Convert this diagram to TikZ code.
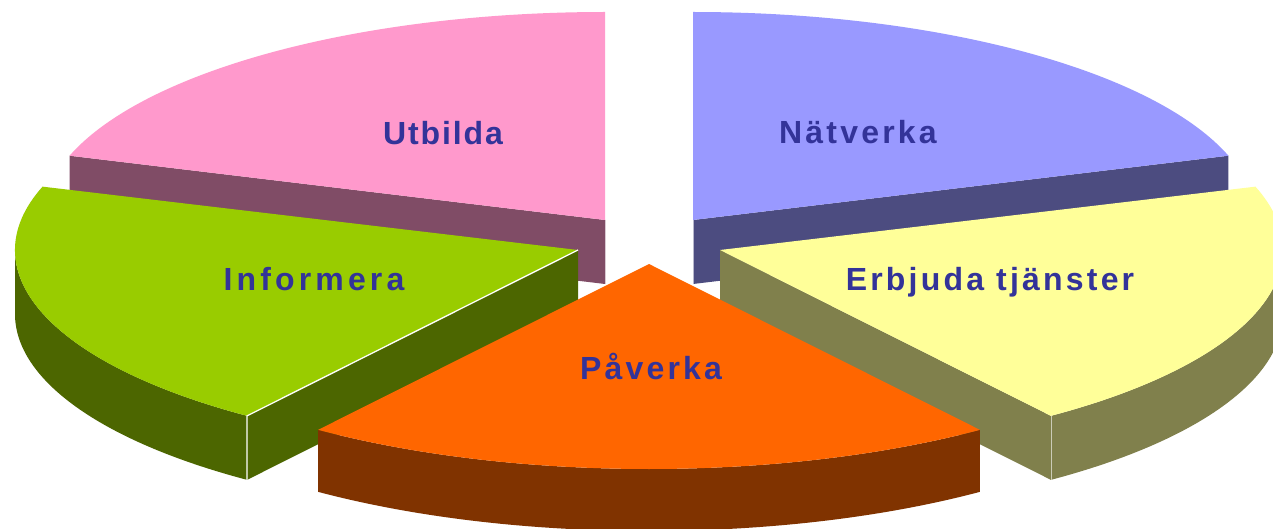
\documentclass[tikz,border=0pt]{standalone}
\usepackage{fontspec}
\usetikzlibrary{calc}
\newfontfamily\lblA[LetterSpace=10]{Liberation Sans}
\newfontfamily\lblB[LetterSpace=6]{Liberation Sans}
\newfontfamily\lblC[LetterSpace=13]{Liberation Sans}
\definecolor{utop}{HTML}{FF99CC}\definecolor{uwall}{HTML}{804C66}
\definecolor{ntop}{HTML}{9999FF}\definecolor{nwall}{HTML}{4C4C80}
\definecolor{etop}{HTML}{FFFF99}\definecolor{ewall}{HTML}{80804C}
\definecolor{ptop}{HTML}{FF6600}\definecolor{pwall}{HTML}{803300}
\definecolor{itop}{HTML}{99CC00}\definecolor{iwall}{HTML}{4C6600}
\definecolor{lbltext}{HTML}{333399}
\tikzset{
  lbl/.style={text=lbltext, inner sep=0pt, anchor=base, font=\lblA\bfseries\fontsize{32}{38}\selectfont},
}
\begin{document}
\begin{tikzpicture}[x=1pt,y=1pt]
\fill[white] (0,0) rectangle (1273,528);
\useasboundingbox (0,0) rectangle (1273,528);
\coordinate (cU) at (605,308);
\coordinate (cN) at (693,308);
\coordinate (cI) at (578,278);
\coordinate (cE) at (720,278);
\coordinate (cP) at (649,264);
% --- Utbilda (back)
\fill[uwall] (cU) -- ($(cU)+(162:563pt and 208pt)$) -- ++(0,-64) -- ($(cU)+(0,-64)$) -- cycle;
\draw[white!70!uwall, line width=0.8pt] (cU) -- ($(cU)+(0,-64)$);
\fill[utop] (cU) -- ($(cU)+(90:563pt and 208pt)$) arc[start angle=90, end angle=162, x radius=563pt, y radius=208pt] -- cycle;
% --- Nätverka (back)
\fill[nwall] (cN) -- ($(cN)+(18:563pt and 208pt)$) -- ++(0,-64) -- ($(cN)+(0,-64)$) -- cycle;
\draw[white!60!nwall, line width=0.8pt] (cN) -- ($(cN)+(0,-64)$);
\fill[ntop] (cN) -- ($(cN)+(18:563pt and 208pt)$) arc[start angle=18, end angle=90, x radius=563pt, y radius=208pt] -- cycle;
% --- Informera
\fill[iwall] ($(cI)+(180:563pt and 205pt)$) arc[start angle=180, end angle=234, x radius=563pt, y radius=205pt] -- ++(0,-64) arc[start angle=234, end angle=180, x radius=563pt, y radius=205pt] -- cycle;
\fill[iwall] (cI) -- ($(cI)+(234:563pt and 205pt)$) -- ++(0,-64) -- ($(cI)+(0,-64)$) -- cycle;
\fill[itop] (cI) -- ($(cI)+(162:563pt and 205pt)$) arc[start angle=162, end angle=234, x radius=563pt, y radius=205pt] -- cycle;
\draw[white, line width=1.3pt] (cI) -- ($(cI)+(234:563pt and 205pt)$) -- ++(0,-64);
% --- Erbjuda tjänster
\fill[ewall] ($(cE)+(306:563pt and 205pt)$) arc[start angle=306, end angle=360, x radius=563pt, y radius=205pt] -- ++(0,-64) arc[start angle=360, end angle=306, x radius=563pt, y radius=205pt] -- cycle;
\fill[ewall] (cE) -- ($(cE)+(306:563pt and 205pt)$) -- ++(0,-64) -- ($(cE)+(0,-64)$) -- cycle;
\fill[etop] (cE) -- ($(cE)+(306:563pt and 205pt)$) arc[start angle=306, end angle=378, x radius=563pt, y radius=205pt] -- cycle;
\draw[white!60!ewall, line width=0.8pt] ($(cE)+(306:563pt and 205pt)$) -- ++(0,-64);
% --- Påverka (front)
\fill[pwall] ($(cP)+(234:563pt and 205pt)$) arc[start angle=234, end angle=306, x radius=563pt, y radius=205pt] -- ++(0,-62) arc[start angle=306, end angle=234, x radius=563pt, y radius=205pt] -- cycle;
\fill[ptop] (cP) -- ($(cP)+(234:563pt and 205pt)$) arc[start angle=234, end angle=306, x radius=563pt, y radius=205pt] -- cycle;
% --- labels
\node[lbl, font=\lblB\bfseries\fontsize{32}{38}\selectfont] (lU) at (443,383.7) {Utbilda};
\node[lbl] (lN) at (858,384) {Nätverka};
\node[lbl] (lE) at (990,238) {Erbjuda tjänster};
\node[lbl] (lP) at (651,148.7) {Påverka};
\node[lbl, font=\lblC\bfseries\fontsize{32}{38}\selectfont] (lI) at (314,238) {Informera};
\end{tikzpicture}
\end{document}
